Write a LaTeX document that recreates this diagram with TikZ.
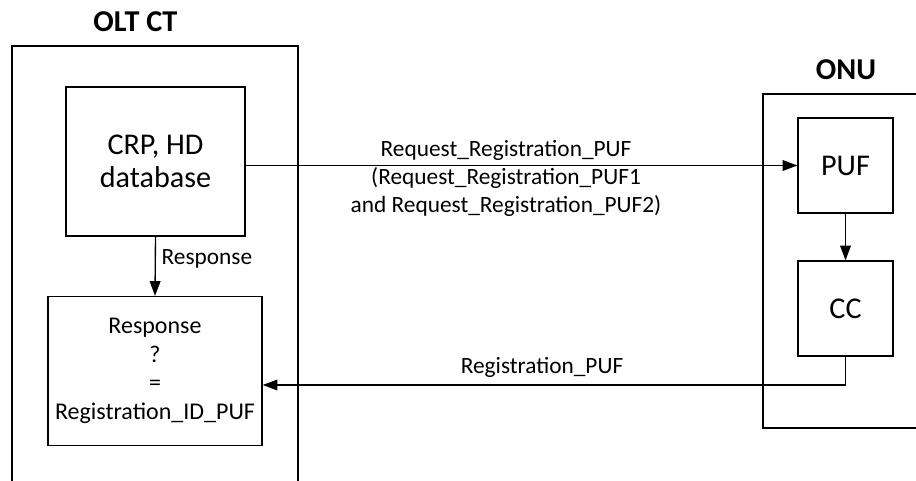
\documentclass[tikz,border=0pt]{standalone}
\usepackage{fontspec}
\setmainfont{Carlito}
\usetikzlibrary{arrows.meta,calc}

\tikzset{every picture/.style={line width=1pt}}
\tikzset{
  blk/.style={draw,inner sep=0pt,align=center},
  lbl/.style={inner sep=0.75pt,align=center,font=\fontsize{17.5}{21}\selectfont},
  ttl/.style={inner sep=0.75pt,font=\fontsize{22.7}{26}\selectfont\bfseries},
  arr/.style={-{Triangle[length=11pt,width=8pt]}}
}

\begin{document}
\begin{tikzpicture}[x=0.75pt,y=0.75pt,yscale=-1,xscale=1]
\useasboundingbox (0,0) rectangle (916,481);

%Shape: OLT side, open at the bottom
\draw (12,481) -- (12,46) -- (298,46) -- (298,481) ;
%Shape: ONU side, open at the right
\draw (916,94) -- (763,94) -- (763,428) -- (916,428) ;

% Title Nodes
\node (oltct) [ttl,anchor=base] at (135.5,32) {OLT CT};
\node (onu) [ttl,anchor=base] at (846,80) {ONU};

% Blocks
\node (crp) [blk,minimum width=134.25pt,minimum height=111.75pt,font=\fontsize{22.6}{25}\selectfont] at (155.5,161.5) {CRP, HD\\database};
\node (res) [blk,minimum width=160.5pt,minimum height=111.75pt,font=\fontsize{18}{21.4}\selectfont] at (155,371) {Response\\?\\=\\Registration\_ID\_PUF};
\node (puf) [blk,minimum width=71.25pt,minimum height=71.25pt,font=\fontsize{22.6}{25}\selectfont] at (845.5,165.5) {PUF};
\node (cc) [blk,minimum width=71.25pt,minimum height=71.25pt,font=\fontsize{22.6}{25}\selectfont] at (845.5,308.5) {CC};

% Connectors
\draw [arr] (puf.west -| crp.east) -- (puf.west) ;
\draw [arr] (crp.south) -- (res.north) ;
\draw [arr] (puf.south) -- (cc.south |- cc.north) ;
\draw [arr] (cc.south) |- ($(res.east)+(0,14)$) ;

% Text Node
\node (req) [lbl] at (506,178) {Request\_Registration\_PUF\\(Request\_Registration\_PUF1\\and Request\_Registration\_PUF2)};
% Text Node
\node (resp) [lbl,anchor=west] at (160,259) {Response};
% Text Node
\node (reg) [lbl] at (542,367) {Registration\_PUF};

\end{tikzpicture}
\end{document}
